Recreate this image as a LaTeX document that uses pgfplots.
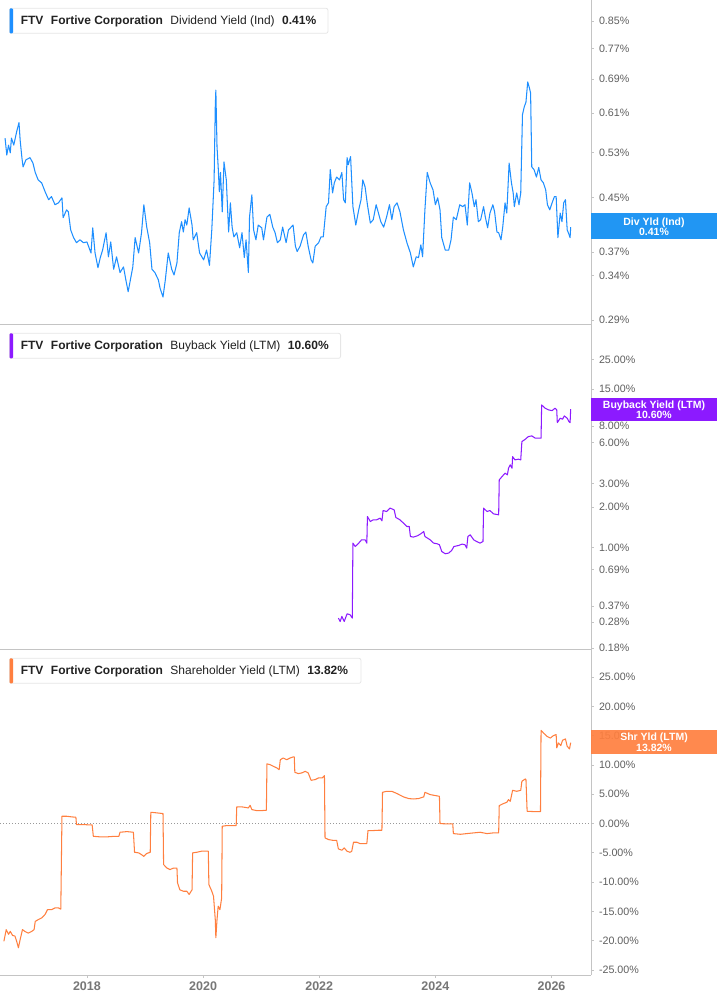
\documentclass[border=0pt]{standalone}
\usepackage{fontspec}
\setmainfont{Liberation Sans}
\usepackage{pgfplots}
\pgfplotsset{compat=1.18}
\definecolor{lblue}{HTML}{1E8FFF}
\definecolor{bblue}{HTML}{2196F3}
\definecolor{lpurp}{HTML}{8C1AFF}
\definecolor{lorng}{HTML}{FF7F3F}
\definecolor{axgray}{HTML}{C4C4C4}
\definecolor{tkgray}{HTML}{5F5F5F}
\definecolor{txtdark}{HTML}{222222}
\definecolor{legborder}{HTML}{E6E6E6}
\pgfplotsset{
  panel/.style={
    scale only axis, width=591pt,
    xmin=2016.503, xmax=2026.68,
    axis x line*=bottom, axis y line*=right,
    axis line style={-, draw=axgray, line width=1pt},
    tick style={draw=axgray, line width=0.8pt},
    major tick length=3pt,
    tick align=outside,
    yminorticks=false, xminorticks=false,
    yticklabel style={font=\fontsize{10.7}{12}\selectfont, text=tkgray, anchor=west, xshift=1.5pt},
    /pgf/number format/assume math mode=true,
  }
}
\begin{document}
\begin{tikzpicture}[x=1pt,y=1pt]
% ---------- Panel 1: Dividend Yield ----------
\begin{axis}[panel, at={(0pt,0pt)}, anchor=north west, height=324pt,
  ymode=log, ymin=0.2858, ymax=0.917,
  ytick={0.29,0.34,0.37,0.45,0.53,0.61,0.69,0.77,0.85},
  yticklabels={0.29\%,0.34\%,0.37\%,0.45\%,0.53\%,0.61\%,0.69\%,0.77\%,0.85\%},
  xtick=\empty]
\addplot[lblue, line width=1.05pt, line join=round] coordinates {
(2016.59,0.558)(2016.62,0.525)(2016.65,0.544)(2016.68,0.529)(2016.70,0.558)(2016.74,0.544)(2016.79,0.571)(2016.83,0.590)(2016.85,0.554)(2016.88,0.520)(2016.90,0.503)(2016.95,0.516)(2017.02,0.520)(2017.07,0.510)(2017.11,0.493)(2017.16,0.480)(2017.22,0.475)(2017.28,0.460)(2017.34,0.447)(2017.39,0.452)(2017.45,0.439)(2017.51,0.442)(2017.57,0.450)(2017.59,0.419)(2017.65,0.431)(2017.68,0.428)(2017.72,0.401)(2017.77,0.390)(2017.82,0.383)(2017.88,0.387)(2017.94,0.383)(2018.00,0.384)(2018.07,0.369)(2018.10,0.404)(2018.14,0.369)(2018.19,0.350)(2018.23,0.363)(2018.27,0.373)(2018.33,0.397)(2018.37,0.364)(2018.41,0.384)(2018.46,0.348)(2018.51,0.364)(2018.57,0.344)(2018.63,0.351)(2018.67,0.335)(2018.71,0.321)(2018.79,0.351)(2018.83,0.390)(2018.89,0.369)(2018.94,0.397)(2018.98,0.439)(2019.03,0.405)(2019.08,0.383)(2019.12,0.348)(2019.17,0.344)(2019.23,0.335)(2019.26,0.325)(2019.31,0.315)(2019.35,0.335)(2019.40,0.369)(2019.46,0.348)(2019.50,0.341)(2019.55,0.356)(2019.59,0.397)(2019.63,0.413)(2019.66,0.398)(2019.69,0.416)(2019.72,0.408)(2019.76,0.434)(2019.81,0.408)(2019.83,0.387)(2019.89,0.397)(2019.94,0.369)(2020.01,0.360)(2020.06,0.373)(2020.11,0.353)(2020.15,0.401)(2020.19,0.480)(2020.21,0.624)(2020.22,0.663)(2020.24,0.541)(2020.26,0.503)(2020.28,0.460)(2020.30,0.493)(2020.33,0.428)(2020.36,0.512)(2020.40,0.480)(2020.44,0.398)(2020.47,0.442)(2020.50,0.405)(2020.53,0.391)(2020.58,0.397)(2020.63,0.376)(2020.67,0.397)(2020.71,0.363)(2020.74,0.387)(2020.78,0.344)(2020.80,0.420)(2020.84,0.455)(2020.87,0.401)(2020.91,0.387)(2020.95,0.408)(2021.01,0.404)(2021.04,0.387)(2021.10,0.420)(2021.15,0.424)(2021.20,0.405)(2021.24,0.397)(2021.28,0.383)(2021.33,0.387)(2021.37,0.405)(2021.43,0.383)(2021.47,0.401)(2021.55,0.408)(2021.59,0.378)(2021.62,0.371)(2021.67,0.378)(2021.73,0.394)(2021.77,0.398)(2021.81,0.378)(2021.86,0.360)(2021.89,0.356)(2021.93,0.378)(2021.99,0.383)(2022.03,0.391)(2022.07,0.391)(2022.12,0.436)(2022.16,0.442)(2022.19,0.498)(2022.23,0.458)(2022.26,0.475)(2022.30,0.485)(2022.35,0.480)(2022.39,0.493)(2022.42,0.447)(2022.45,0.442)(2022.48,0.520)(2022.50,0.507)(2022.54,0.522)(2022.58,0.436)(2022.63,0.408)(2022.68,0.431)(2022.72,0.447)(2022.75,0.480)(2022.79,0.468)(2022.83,0.439)(2022.88,0.411)(2022.93,0.416)(2022.98,0.439)(2023.02,0.426)(2023.06,0.413)(2023.11,0.405)(2023.16,0.420)(2023.21,0.439)(2023.25,0.416)(2023.29,0.436)(2023.34,0.442)(2023.39,0.428)(2023.45,0.401)(2023.51,0.383)(2023.57,0.369)(2023.62,0.351)(2023.67,0.364)(2023.71,0.363)(2023.75,0.380)(2023.78,0.364)(2023.82,0.431)(2023.86,0.493)(2023.91,0.475)(2023.96,0.463)(2024.00,0.439)(2024.04,0.450)(2024.08,0.431)(2024.11,0.390)(2024.17,0.373)(2024.23,0.373)(2024.27,0.387)(2024.31,0.420)(2024.36,0.416)(2024.42,0.439)(2024.47,0.436)(2024.51,0.439)(2024.55,0.408)(2024.59,0.475)(2024.63,0.458)(2024.67,0.436)(2024.70,0.447)(2024.74,0.413)(2024.78,0.416)(2024.83,0.436)(2024.86,0.420)(2024.90,0.404)(2024.94,0.426)(2024.99,0.439)(2025.02,0.428)(2025.06,0.398)(2025.09,0.397)(2025.13,0.387)(2025.16,0.405)(2025.20,0.442)(2025.23,0.426)(2025.27,0.510)(2025.31,0.475)(2025.34,0.458)(2025.36,0.436)(2025.40,0.458)(2025.44,0.439)(2025.47,0.458)(2025.50,0.607)(2025.53,0.624)(2025.56,0.635)(2025.59,0.683)(2025.62,0.668)(2025.64,0.656)(2025.66,0.503)(2025.70,0.498)(2025.74,0.485)(2025.78,0.502)(2025.82,0.480)(2025.86,0.475)(2025.90,0.463)(2025.93,0.439)(2025.97,0.431)(2026.01,0.442)(2026.05,0.452)(2026.08,0.452)(2026.11,0.390)(2026.15,0.426)(2026.18,0.413)(2026.21,0.442)(2026.24,0.447)(2026.27,0.401)(2026.29,0.397)(2026.32,0.390)(2026.33,0.405)
};
\end{axis}
% ---------- Panel 2: Buyback Yield ----------
\begin{axis}[panel, at={(0pt,-324pt)}, anchor=north west, height=325pt,
  ymode=log, ymin=0.1775, ymax=45.7,
  ytick={0.18,0.28,0.37,0.69,1,2,3,6,8,15,25},
  yticklabels={0.18\%,0.28\%,0.37\%,0.69\%,1.00\%,2.00\%,3.00\%,6.00\%,8.00\%,15.00\%,25.00\%},
  xtick=\empty]
\addplot[lpurp, line width=1.05pt, line join=round] coordinates {
(2022.33,0.301)(2022.36,0.284)(2022.39,0.310)(2022.43,0.284)(2022.48,0.324)(2022.53,0.319)(2022.57,0.301)(2022.58,1.083)(2022.62,1.022)(2022.68,1.083)(2022.73,1.146)(2022.79,1.146)(2022.82,1.083)(2022.83,1.706)(2022.88,1.566)(2022.93,1.613)(2022.99,1.613)(2023.05,1.660)(2023.08,1.585)(2023.10,1.890)(2023.16,1.858)(2023.22,1.969)(2023.29,1.913)(2023.32,1.677)(2023.39,1.613)(2023.45,1.524)(2023.51,1.438)(2023.55,1.438)(2023.57,1.213)(2023.62,1.200)(2023.69,1.227)(2023.75,1.270)(2023.80,1.321)(2023.82,1.213)(2023.91,1.146)(2023.97,1.083)(2024.03,1.071)(2024.07,1.053)(2024.11,0.939)(2024.17,0.903)(2024.23,0.914)(2024.28,0.955)(2024.32,1.022)(2024.40,1.040)(2024.46,1.065)(2024.51,1.053)(2024.54,0.995)(2024.56,1.213)(2024.60,1.248)(2024.66,1.146)(2024.71,1.113)(2024.77,1.083)(2024.82,1.113)(2024.83,1.969)(2024.89,1.858)(2024.94,1.890)(2025.00,1.786)(2025.09,1.756)(2025.10,3.191)(2025.14,3.342)(2025.20,3.578)(2025.24,3.475)(2025.26,3.896)(2025.29,4.123)(2025.32,3.896)(2025.33,4.749)(2025.37,4.489)(2025.43,4.543)(2025.47,4.489)(2025.49,6.135)(2025.55,6.392)(2025.60,6.681)(2025.66,6.761)(2025.72,6.501)(2025.78,6.501)(2025.82,6.501)(2025.83,11.47)(2025.89,10.85)(2025.95,10.54)(2026.01,10.41)(2026.06,10.85)(2026.09,10.54)(2026.10,8.484)(2026.15,9.145)(2026.19,8.99)(2026.22,9.51)(2026.27,9.145)(2026.30,8.63)(2026.32,8.484)(2026.33,10.66)
};
\end{axis}
% ---------- Panel 3: Shareholder Yield ----------
\begin{axis}[panel, at={(0pt,-649pt)}, anchor=north west, height=326pt,
  ymin=-25.85, ymax=29.8,
  ytick={-25,-20,-15,-10,-5,0,5,10,15,20,25},
  yticklabels={-25.00\%,-20.00\%,-15.00\%,-10.00\%,-5.00\%,0.00\%,5.00\%,10.00\%,15.00\%,20.00\%,25.00\%},
  xtick={2018,2020,2022,2024,2026},
  xticklabels={2018,2020,2022,2024,2026},
  xticklabel style={font=\fontsize{12.5}{14}\selectfont\bfseries, text=tkgray!85, yshift=-0.5pt}]
\addplot[gray!80, line width=1pt, dash pattern=on 1.2pt off 1.8pt] coordinates {(2016.503,0)(2026.68,0)};
\addplot[lorng, line width=1.05pt, line join=round] coordinates {
(2016.57,-20.1)(2016.61,-18.1)(2016.65,-18.9)(2016.68,-18.4)(2016.72,-19.1)(2016.76,-19.2)(2016.79,-20.1)(2016.82,-21.2)(2016.85,-19.8)(2016.89,-18.1)(2016.93,-18.4)(2016.99,-18.7)(2017.05,-18.4)(2017.09,-18.1)(2017.11,-16.7)(2017.16,-16.4)(2017.22,-16.1)(2017.28,-15.5)(2017.32,-14.7)(2017.39,-14.7)(2017.45,-14.4)(2017.51,-14.4)(2017.55,-14.6)(2017.57,1.25)(2017.65,1.25)(2017.74,1.14)(2017.81,1.08)(2017.82,-0.17)(2017.94,-0.17)(2018.05,-0.23)(2018.09,-0.23)(2018.11,-2.17)(2018.23,-2.27)(2018.34,-2.27)(2018.48,-2.17)(2018.55,-2.17)(2018.57,-1.48)(2018.69,-1.37)(2018.80,-1.48)(2018.82,-4.9)(2018.89,-5.0)(2018.94,-5.3)(2018.98,-5.6)(2019.03,-5.1)(2019.09,-4.9)(2019.10,1.93)(2019.20,1.83)(2019.31,1.71)(2019.32,-7.0)(2019.38,-7.6)(2019.43,-7.85)(2019.49,-7.6)(2019.55,-7.6)(2019.56,-10.1)(2019.60,-11.3)(2019.66,-11.55)(2019.72,-11.55)(2019.76,-12.1)(2019.81,-11.3)(2019.82,-5.0)(2019.89,-4.9)(2019.98,-4.7)(2020.09,-4.7)(2020.10,-10.4)(2020.15,-11.55)(2020.18,-12.4)(2020.21,-16.4)(2020.22,-19.5)(2020.24,-16.4)(2020.26,-14.1)(2020.29,-14.7)(2020.32,-12.7)(2020.33,-0.45)(2020.41,-0.34)(2020.49,-0.34)(2020.57,-0.34)(2020.58,2.85)(2020.67,2.85)(2020.78,2.67)(2020.81,3.12)(2020.84,2.39)(2020.92,2.22)(2021.01,2.22)(2021.09,2.27)(2021.10,10.19)(2021.15,10.07)(2021.21,9.78)(2021.27,9.5)(2021.31,9.2)(2021.33,10.9)(2021.38,11.2)(2021.44,10.9)(2021.50,11.2)(2021.56,11.4)(2021.57,11.4)(2021.58,8.75)(2021.64,8.53)(2021.70,8.65)(2021.76,8.92)(2021.81,8.65)(2021.86,7.39)(2021.93,7.51)(2021.99,7.8)(2022.05,7.8)(2022.09,8.19)(2022.10,-2.44)(2022.16,-2.73)(2022.23,-2.85)(2022.30,-2.85)(2022.33,-4.32)(2022.39,-4.55)(2022.43,-4.15)(2022.48,-4.73)(2022.53,-4.9)(2022.56,-4.73)(2022.59,-3.19)(2022.65,-3.19)(2022.70,-3.41)(2022.82,-3.41)(2022.84,-1.19)(2022.93,-1.19)(2023.02,-1.14)(2023.08,-1.14)(2023.09,5.34)(2023.16,5.51)(2023.25,5.51)(2023.34,5.12)(2023.45,4.56)(2023.54,4.27)(2023.62,4.2)(2023.71,4.27)(2023.80,4.56)(2023.82,5.34)(2023.91,4.95)(2024.00,4.78)(2024.07,4.66)(2024.08,0)(2024.20,-0.06)(2024.30,-0.06)(2024.31,-1.71)(2024.43,-1.83)(2024.54,-1.71)(2024.66,-1.59)(2024.77,-1.48)(2024.89,-1.71)(2025.00,-1.59)(2025.09,-1.59)(2025.10,3.07)(2025.17,3.41)(2025.23,3.63)(2025.26,4.1)(2025.29,3.8)(2025.33,5.68)(2025.40,5.51)(2025.47,5.68)(2025.49,7.22)(2025.55,7.63)(2025.56,7.51)(2025.58,2.1)(2025.69,2.05)(2025.81,2.05)(2025.82,15.92)(2025.86,15.48)(2025.92,14.9)(2025.98,14.6)(2026.03,15.0)(2026.08,15.2)(2026.09,12.92)(2026.12,13.77)(2026.16,13.31)(2026.19,14.22)(2026.24,14.45)(2026.27,13.19)(2026.31,12.75)(2026.33,13.82)
};
\end{axis}
% ---------- Legend boxes ----------
\newcommand{\legbox}[5]{%
  \draw[fill=white, draw=legborder, line width=0.8pt, rounded corners=2pt] (9.5,#1) rectangle (#3,#1-25);
  \fill[#2, rounded corners=1pt] (9.5,#1) rectangle (13,#1-25);
  \node[anchor=base west, inner sep=0pt, text=txtdark] at (20.6,#1-16.3)
    {\fontsize{12}{14}\selectfont\bfseries FTV\hspace{7.5pt}Fortive Corporation\hspace{7.5pt}\mdseries #4\hspace{7.5pt}\bfseries #5};}
\legbox{-8.3}{lblue}{328}{Dividend Yield (Ind)}{0.41\%}
\legbox{-333.3}{lpurp}{340.6}{Buyback Yield (LTM)}{10.60\%}
\legbox{-658.3}{lorng}{361}{Shareholder Yield (LTM)}{13.82\%}
% ---------- Right value boxes ----------
\fill[bblue] (591,-213.3) rectangle (717,-239.3);
\node[text=white, align=center, inner sep=0pt, font=\fontsize{10.5}{10.8}\selectfont\bfseries] at (654,-226.8) {Div Yld (Ind)\\0.41\%};
\fill[lpurp] (591,-397.7) rectangle (717,-421);
\node[text=white, align=center, inner sep=0pt, font=\fontsize{10.5}{10.8}\selectfont\bfseries] at (654,-409.8) {Buyback Yield (LTM)\\10.60\%};
\fill[lorng, fill opacity=0.92] (591,-730.3) rectangle (717,-753.7);
\node[text=white, align=center, inner sep=0pt, font=\fontsize{10.5}{10.8}\selectfont\bfseries] at (654,-742.4) {Shr Yld (LTM)\\13.82\%};
\pgfresetboundingbox
\useasboundingbox (0,0) rectangle (717,-1005);
\end{tikzpicture}
\end{document}
